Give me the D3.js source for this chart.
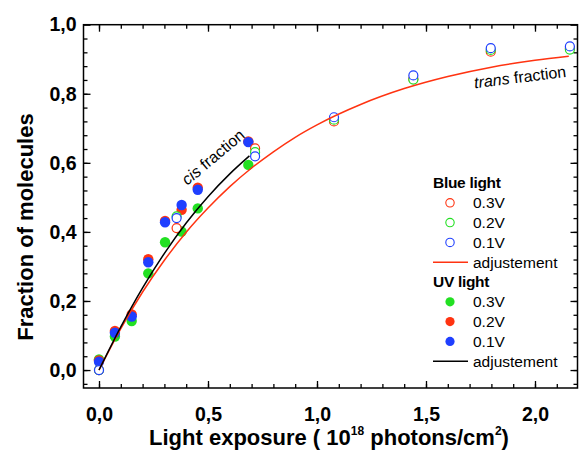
<!DOCTYPE html>
<html><head><meta charset="utf-8">
<script src="https://cdn.jsdelivr.net/npm/d3@7"></script>
<style>
html,body{margin:0;padding:0;background:#fff;}
svg{display:block;font-family:"Liberation Sans",Arial,sans-serif;}
</style></head>
<body>
<svg id="chart" width="579" height="458"></svg>
<script>
// ---- data ----
const blueX   = [0, 0.356, 0.716, 1.078, 1.442, 1.797, 2.160];
const blue03  = [0, 0.411, 0.642, 0.720, 0.843, 0.922, 0.932];
const blue02  = [0, 0.445, 0.631, 0.725, 0.841, 0.927, 0.928];
const blue01  = [0, 0.440, 0.619, 0.732, 0.853, 0.932, 0.937];

const uvX  = [0, 0.073, 0.150, 0.226, 0.303, 0.379, 0.453, 0.685];
const uv03 = [0.031, 0.097, 0.142, 0.280, 0.370, 0.401, 0.468, 0.594];
const uv02 = [0.028, 0.113, 0.161, 0.321, 0.432, 0.464, 0.528, 0.662];
const uv01 = [0.024, 0.108, 0.155, 0.312, 0.428, 0.478, 0.522, 0.660];

const transCurveX = [0, 0.1, 0.2, 0.3, 0.4, 0.5, 0.6, 0.7, 0.8, 0.9, 1.0, 1.2, 1.4, 1.6, 1.8, 2.0, 2.155];
const transCurveY = [0, 0.120, 0.226, 0.318, 0.399, 0.469, 0.531, 0.585, 0.632, 0.674, 0.710, 0.769, 0.815, 0.850, 0.877, 0.897, 0.909];
const cisCurveX = [0, 0.1, 0.2, 0.3, 0.4, 0.5, 0.6, 0.69];
const cisCurveY = [0, 0.125, 0.238, 0.338, 0.426, 0.502, 0.568, 0.620];

const seriesLabels = ["0.3V", "0.2V", "0.1V"];
const xTicks = [0, 0.5, 1.0, 1.5, 2.0];
const yTicks = [0, 0.2, 0.4, 0.6, 0.8, 1.0];
const xMinor = d3.range(0, 2.15, 0.1);
const yMinor = d3.range(-0.04, 1.0, 0.04);

// ---- styles ----
const colRed = "#ff3311", colGreen = "#22e022", colBlue = "#1f3fff";
const seriesColors = [colRed, colGreen, colBlue];      // blue light order
const uvColors = [colGreen, colRed, colBlue];          // UV order

const svg = d3.select("#chart");
const L = 83.5, R = 577.5, T = 24.7, B = 388;
const x = d3.scaleLinear().domain([-0.0711, 2.195]).range([L, R]);
const y = d3.scaleLinear().domain([-0.052, 1.0]).range([B, T]);
const fmt = d => d3.format(".1f")(d).replace(".", ",");

// axes
function axisGroup(axis, tx, ty) {
  const g = svg.append("g").attr("transform", `translate(${tx},${ty})`).call(axis);
  g.select(".domain").remove();
  g.selectAll(".tick line").attr("stroke", "#000").attr("stroke-width", 1.3);
  return g;
}
// minor
axisGroup(d3.axisBottom(x).tickValues(xMinor).tickSize(-4).tickFormat(""), 0, B);
axisGroup(d3.axisTop(x).tickValues(xMinor).tickSize(-4).tickFormat(""), 0, T);
axisGroup(d3.axisLeft(y).tickValues(yMinor).tickSize(-4).tickFormat(""), L, 0);
axisGroup(d3.axisRight(y).tickValues(yMinor).tickSize(-4).tickFormat(""), R, 0);
// major
const gx = axisGroup(d3.axisBottom(x).tickValues(xTicks).tickSize(-7).tickPadding(20.5).tickFormat(fmt), 0, B);
axisGroup(d3.axisTop(x).tickValues(xTicks).tickSize(-7).tickFormat(""), 0, T);
const gy = axisGroup(d3.axisLeft(y).tickValues(yTicks).tickSize(-7).tickPadding(7).tickFormat(fmt), L, 0);
axisGroup(d3.axisRight(y).tickValues(yTicks).tickSize(-7).tickFormat(""), R, 0);
[gx, gy].forEach(g => g.selectAll(".tick text")
  .attr("fill", "#000").style("font-size", "19.5px").style("font-weight", "bold")
  .style("font-family", '"Liberation Sans",Arial,sans-serif'));
gx.selectAll(".tick text").attr("dy", "0.66em");

// frame
svg.append("rect").attr("x", L).attr("y", T).attr("width", R - L).attr("height", B - T)
  .attr("fill", "none").attr("stroke", "#000").attr("stroke-width", 1.5);

// UV filled points (0.3V green, 0.2V red, 0.1V blue on top)
[uv03, uv02, uv01].forEach((vals, i) => {
  svg.append("g").selectAll("circle").data(vals).join("circle")
    .attr("cx", (d, j) => x(uvX[j])).attr("cy", d => y(d)).attr("r", 5.2)
    .attr("fill", uvColors[i]);
});
// Blue-light open points
[blue03, blue02, blue01].forEach((vals, i) => {
  svg.append("g").selectAll("circle").data(vals).join("circle")
    .attr("cx", (d, j) => x(blueX[j])).attr("cy", d => y(d)).attr("r", 4.5)
    .attr("fill", "#fff").attr("stroke", seriesColors[i]).attr("stroke-width", 1.2);
});

// fitted curves
const line = d3.line().x(d => x(d[0])).y(d => y(d[1])).curve(d3.curveMonotoneX);
svg.append("path").datum(transCurveX.map((v, i) => [v, transCurveY[i]]))
  .attr("d", line).attr("fill", "none").attr("stroke", colRed).attr("stroke-width", 1.5);
svg.append("path").datum(cisCurveX.map((v, i) => [v, cisCurveY[i]]))
  .attr("d", line).attr("fill", "none").attr("stroke", "#000").attr("stroke-width", 1.5);

// curve labels
const cis = svg.append("text").attr("transform", "translate(213,157) rotate(-40)")
  .attr("text-anchor", "middle").attr("dy", "0.35em").style("font-size", "16px");
cis.append("tspan").style("font-style", "italic").text("cis");
cis.append("tspan").text(" fraction");
const trans = svg.append("text").attr("transform", "translate(520,77) rotate(-7)")
  .attr("text-anchor", "middle").attr("dy", "0.35em").style("font-size", "16px");
trans.append("tspan").style("font-style", "italic").text("trans");
trans.append("tspan").text(" fraction");

// axis titles
const xt = svg.append("text").attr("x", 329).attr("y", 445).attr("text-anchor", "middle")
  .style("font-size", "22px").style("font-weight", "bold");
xt.append("tspan").text("Light exposure ( 10");
xt.append("tspan").attr("dy", -10).style("font-size", "12px").text("18");
xt.append("tspan").attr("dy", 10).text(" photons/cm");
xt.append("tspan").attr("dy", -10).style("font-size", "12px").text("2");
xt.append("tspan").attr("dy", 10).text(")");
svg.append("text").attr("transform", "translate(33,227) rotate(-90)").attr("text-anchor", "middle")
  .style("font-size", "22px").style("font-weight", "bold").text("Fraction of molecules");

// legend
const lg = svg.append("g").style("font-size", "15.5px");
const rowH = 19.8, lx = 433, mx = 450, tx = 473, ly0 = 183;
function legendBlock(start, title, colors, filled, lineColor) {
  lg.append("text").attr("x", lx).attr("y", ly0 + start * rowH).attr("dy", "0.35em")
    .style("font-weight", "bold").style("letter-spacing", "-0.3px").text(title);
  seriesLabels.forEach((lab, i) => {
    const yy = ly0 + (start + 1 + i) * rowH;
    lg.append("circle").attr("cx", mx).attr("cy", yy).attr("r", filled ? 4.6 : 4.2)
      .attr("fill", filled ? colors[i] : "#fff").attr("stroke", filled ? "none" : colors[i])
      .attr("stroke-width", 1.1);
    lg.append("text").attr("x", tx).attr("y", yy).attr("dy", "0.35em").text(lab);
  });
  const yy = ly0 + (start + 4) * rowH;
  lg.append("line").attr("x1", lx).attr("x2", 468).attr("y1", yy).attr("y2", yy)
    .attr("stroke", lineColor).attr("stroke-width", 1.4);
  lg.append("text").attr("x", tx).attr("y", yy).attr("dy", "0.35em").text("adjustement");
}
legendBlock(0, "Blue light", seriesColors, false, colRed);
legendBlock(5, "UV light", uvColors, true, "#000");
</script>
</body></html>
